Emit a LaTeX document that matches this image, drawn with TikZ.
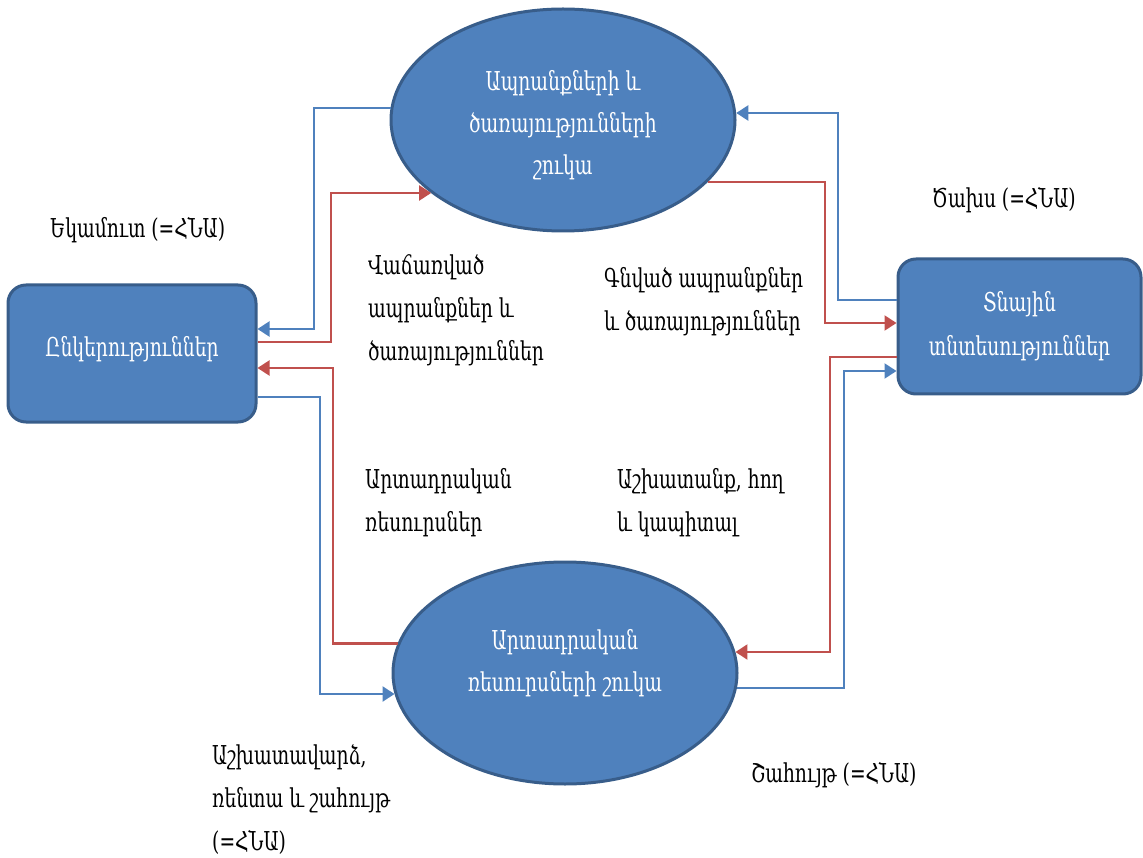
\documentclass[tikz,border=0pt]{standalone}
\usepackage{fontspec}
\setmainfont{DejaVu Serif}[FakeStretch=0.72]
\usetikzlibrary{arrows.meta,shapes.geometric,calc}
\definecolor{fillblue}{HTML}{4F81BD}
\definecolor{edgeblue}{HTML}{385D8A}
\definecolor{lineblue}{HTML}{4F81BD}
\definecolor{linered}{HTML}{C0504D}
\begin{document}
\begin{tikzpicture}[x=1pt,y=-1pt,
  market/.style={ellipse, draw=edgeblue, line width=3pt, fill=fillblue,
    minimum width=344pt, minimum height=222pt, inner sep=0pt, text=white,
    align=center, font=\fontsize{26}{42}\selectfont},
  agent/.style={rectangle, rounded corners=18pt, draw=edgeblue, line width=3pt,
    fill=fillblue, text=white, align=center, inner sep=0pt,
    font=\fontsize{26}{44}\selectfont},
  lbl/.style={align=left, anchor=west, inner sep=0pt, font=\fontsize{26}{43}\selectfont},
  tipstyle/.style={-{Triangle[length=12pt,width=15pt]}},
  bflow/.style={draw=lineblue, line width=2.2pt, tipstyle},
  rflow/.style={draw=linered, line width=2.2pt, tipstyle},
]
\useasboundingbox (0,0) rectangle (1143,858);

\node[market, text height=115pt] (top) at (563,120) {Ապրանքների և\\ծառայությունների\\շուկա};
\node[market, text height=42pt] (bot) at (565,673) {Արտադրական\\ռեսուրսների շուկա};
\node[agent, minimum width=248pt, minimum height=137pt, text depth=14pt] (lbox) at (132,353.5) {Ընկերություններ};
\node[agent, minimum width=243pt, minimum height=135pt] (rbox) at (1019.5,326.5) {Տնային\\տնտեսություններ};

\node[lbl] (l1) at (50,230) {Եկամուտ (=ՀՆԱ)};
\node[lbl] (l2) at (368,310) {Վաճառված\\ապրանքներ և\\ծառայություններ};
\node[lbl] (l3) at (932,200) {Ծախս (=ՀՆԱ)};
\node[lbl] (l4) at (604,302) {Գնված ապրանքներ\\և ծառայություններ};
\node[lbl] (l5) at (365,503) {Արտադրական\\ռեսուրսներ};
\node[lbl] (l6) at (617,503) {Աշխատանք, հող\\և կապիտալ};
\node[lbl] (l7) at (212,799) {Աշխատավարձ,\\ռենտա և շահույթ\\(=ՀՆԱ)};
\node[lbl] (l8) at (751,775) {Շահույթ (=ՀՆԱ)};

\draw[bflow] (top.176) -| (314,329) -- (lbox.east |- 0,329);
\draw[rflow] (lbox.east |- 0,342) -| (331,193) -- (top.209 |- 0,193);
\draw[rflow] (bot.170) -| (333,368) -- (lbox.east |- 0,368);
\draw[bflow] (lbox.east |- 0,397) -| (320,694) -- (bot.187 |- 0,694);
\draw[bflow] (rbox.west |- 0,300) -| (838,113) -- (top.2 |- 0,113);
\draw[rflow] (top.-23) -| (825,323) -- (rbox.west |- 0,323);
\draw[rflow] (rbox.west |- 0,357) -| (830,652) -- (bot.7 |- 0,652);
\draw[bflow] (bot.-5) -| (844,371) -- (rbox.west |- 0,371);
\end{tikzpicture}
\end{document}
